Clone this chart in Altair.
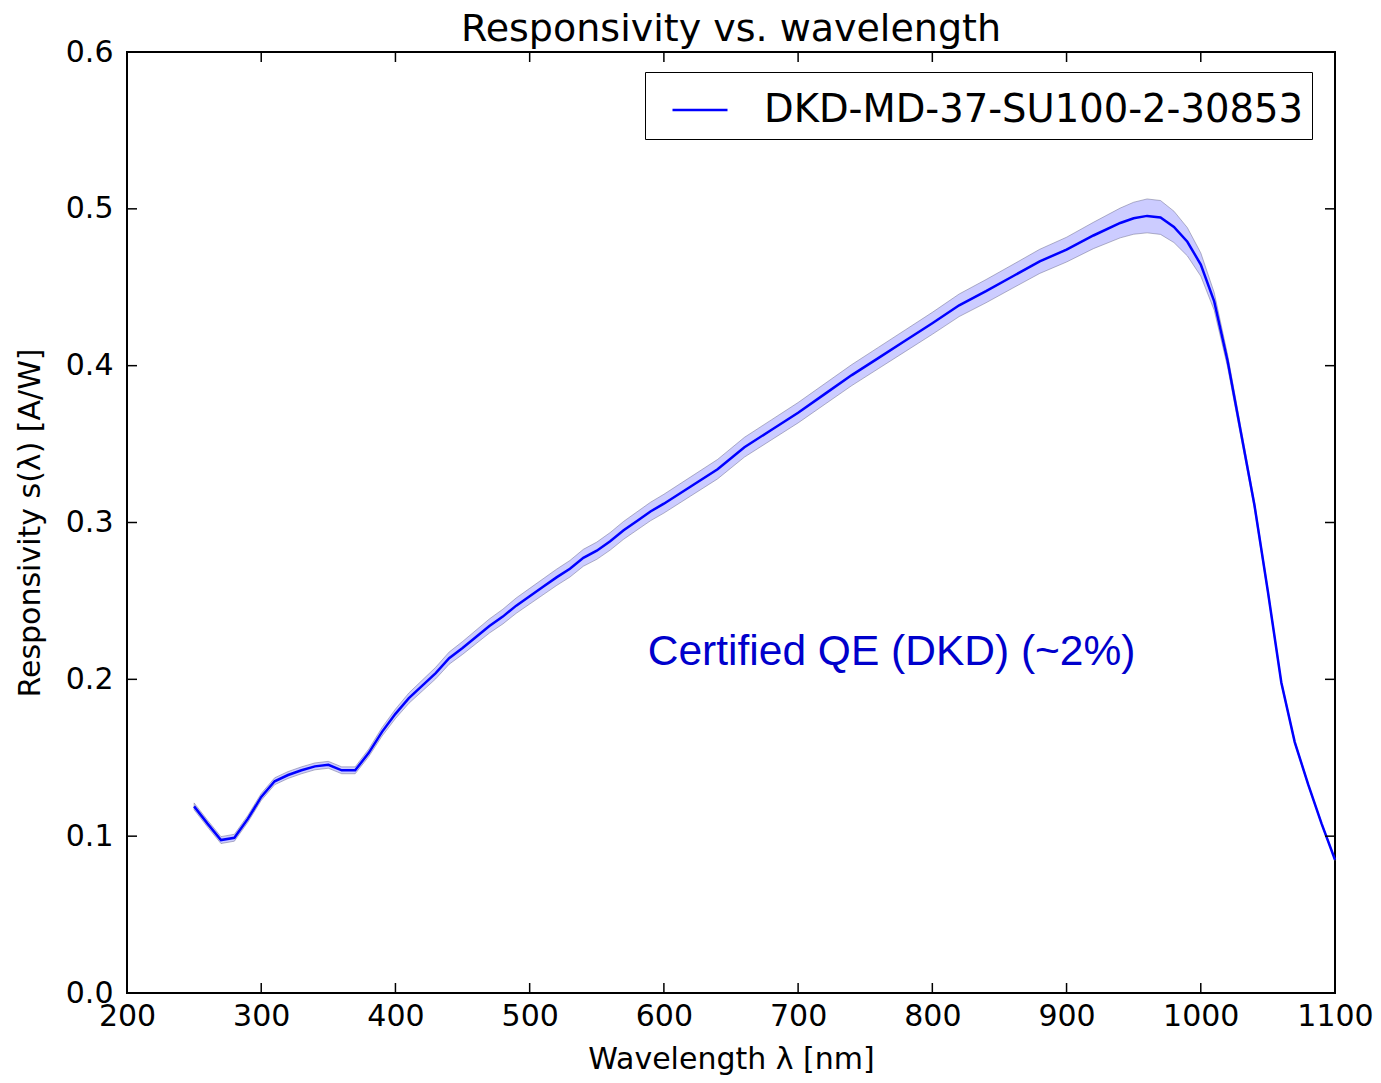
import altair as alt
import pandas as pd

# ---- data ----
wavelength = [250, 260, 270, 280, 290, 300, 310, 320, 330, 340, 350, 360, 370, 380, 390,
              400, 410, 420, 430, 440, 450, 460, 470, 480, 490, 500, 510, 520, 530, 540,
              550, 560, 570, 580, 590, 600, 620, 640, 660, 680, 700, 720, 740, 760, 780,
              800, 820, 840, 860, 880, 900, 920, 940, 950, 960, 970, 980, 990, 1000, 1010,
              1020, 1030, 1040, 1050, 1060, 1070, 1080, 1090, 1100]
responsivity = [0.119, 0.108, 0.0975, 0.099, 0.111, 0.125, 0.135, 0.139, 0.142, 0.1445,
                0.1455, 0.142, 0.142, 0.153, 0.1665, 0.178, 0.188, 0.196, 0.204, 0.2135,
                0.220, 0.227, 0.234, 0.240, 0.247, 0.253, 0.259, 0.265, 0.2705, 0.2775,
                0.282, 0.288, 0.295, 0.301, 0.307, 0.312, 0.323, 0.334, 0.348, 0.359,
                0.370, 0.382, 0.394, 0.405, 0.416, 0.427, 0.4385, 0.4475, 0.457, 0.4665,
                0.474, 0.483, 0.491, 0.494, 0.4955, 0.4945, 0.4885, 0.479, 0.4645, 0.441,
                0.403, 0.357, 0.311, 0.256, 0.198, 0.160, 0.133, 0.108, 0.085]
half_width = [0.0022, 0.0022, 0.0022, 0.0022, 0.0022, 0.0022, 0.0022, 0.0022, 0.0022, 0.0022,
              0.0022, 0.0022, 0.0022, 0.0024, 0.0027, 0.0030, 0.0033, 0.0035, 0.0037, 0.0039,
              0.0041, 0.0043, 0.0045, 0.0047, 0.0049, 0.0050, 0.0051, 0.0052, 0.0053, 0.0054,
              0.0055, 0.0056, 0.0057, 0.0058, 0.0059, 0.0060, 0.0061, 0.0062, 0.0063, 0.0064,
              0.0065, 0.0066, 0.0067, 0.0068, 0.0069, 0.0070, 0.0072, 0.0074, 0.0075, 0.0077,
              0.0079, 0.0084, 0.0095, 0.0102, 0.0108, 0.0108, 0.0100, 0.0090, 0.0074, 0.0056,
              0.0040, 0.0030, 0.0022, 0.0016, 0.0012, 0.0010, 0.0008, 0.0007, 0.0006]
series_name = "DKD-MD-37-SU100-2-30853"

x_ticks = [200, 300, 400, 500, 600, 700, 800, 900, 1000, 1100]
y_ticks = [0.0, 0.1, 0.2, 0.3, 0.4, 0.5, 0.6]

ann_x = [588]
ann_y = [0.209]
ann_text = ["Certified QE (DKD) (~2%)"]

# ---- tables ----
df = pd.DataFrame({
    "wl": wavelength,
    "s": responsivity,
    "lo": [v - h for v, h in zip(responsivity, half_width)],
    "hi": [v + h for v, h in zip(responsivity, half_width)],
    "series": series_name,
})
xt = pd.DataFrame({"wl": x_ticks})
yt = pd.DataFrame({"s": y_ticks})
ann = pd.DataFrame({"wl": ann_x, "s": ann_y, "text": ann_text})

W, H = 1208, 941
FONT = "DejaVu Sans"

xscale = alt.Scale(domain=[200, 1100], nice=False, zero=False)
yscale = alt.Scale(domain=[0, 0.6], nice=False, zero=False)

xaxis = alt.Axis(values=x_ticks, format="d", title="Wavelength \u03bb [nm]",
                 labelPadding=8, titleY=75, titleBaseline="alphabetic",
                 labelOverlap=False, labelFlush=False, labelBound=False)
yaxis = alt.Axis(values=y_ticks, format=".1f", title="Responsivity s(\u03bb) [A/W]",
                 labelPadding=14, titleX=-88, titleY=H / 2, titleAngle=-90,
                 titleAlign="center", titleBaseline="alphabetic",
                 labelOverlap=False, labelFlush=False, labelBound=False)

X = alt.X("wl:Q", scale=xscale, axis=xaxis)
Y = alt.Y("s:Q", scale=yscale, axis=yaxis)

band = alt.Chart(df).mark_area(
    fill="#0000ff", fillOpacity=0.2, stroke="#606080", strokeOpacity=0.45, strokeWidth=1
).encode(
    x=X,
    y=alt.Y("lo:Q", scale=yscale, axis=yaxis),
    y2="hi:Q",
)

line = alt.Chart(df).mark_line(strokeWidth=2.5).encode(
    x=X,
    y=Y,
    color=alt.Color(
        "series:N",
        scale=alt.Scale(domain=[series_name], range=["#0000ff"]),
        legend=alt.Legend(
            title=None, orient="none", legendX=518, legendY=20,
            symbolType="stroke", symbolSize=3025, symbolStrokeWidth=2.5, symbolOffset=17,
            labelFont=FONT, labelFontSize=38.5, labelColor="black", labelLimit=2000,
            labelOffset=35, padding=9, strokeColor="black", fillColor="white",
        ),
    ),
)

text = alt.Chart(ann).mark_text(
    align="left", baseline="alphabetic", font="Liberation Sans", fontSize=42.5, color="#0000cc"
).encode(
    x=X,
    y=Y,
    text="text:N",
)

TL = 10
tick_style = dict(color="black", strokeWidth=1.5)
xt_bottom = alt.Chart(xt).mark_rule(**tick_style).encode(
    x=X, y=alt.value(H), y2=alt.value(H - TL))
xt_top = alt.Chart(xt).mark_rule(**tick_style).encode(
    x=X, y=alt.value(0), y2=alt.value(TL))
yt_left = alt.Chart(yt).mark_rule(**tick_style).encode(
    y=Y, x=alt.value(0), x2=alt.value(TL))
yt_right = alt.Chart(yt).mark_rule(**tick_style).encode(
    y=Y, x=alt.value(W), x2=alt.value(W - TL))

chart = alt.layer(band, line, text, xt_bottom, xt_top, yt_left, yt_right).properties(
    width=W, height=H,
    title=alt.TitleParams("Responsivity vs. wavelength", font=FONT, fontSize=38,
                          fontWeight="normal", color="black", anchor="middle", offset=-12),
    autosize=alt.AutoSizeParams(type="none"),
    padding={"left": 119, "top": 44, "right": 38, "bottom": 82},
).configure_view(
    stroke="black", strokeWidth=2
).configure_axis(
    labelFont=FONT, labelFontSize=30, labelColor="black",
    titleFont=FONT, titleFontSize=30, titleFontWeight="normal", titleColor="black",
    grid=False, domain=False, ticks=False,
)

chart.save("out.html", embed_options={"renderer": "svg", "actions": False})
